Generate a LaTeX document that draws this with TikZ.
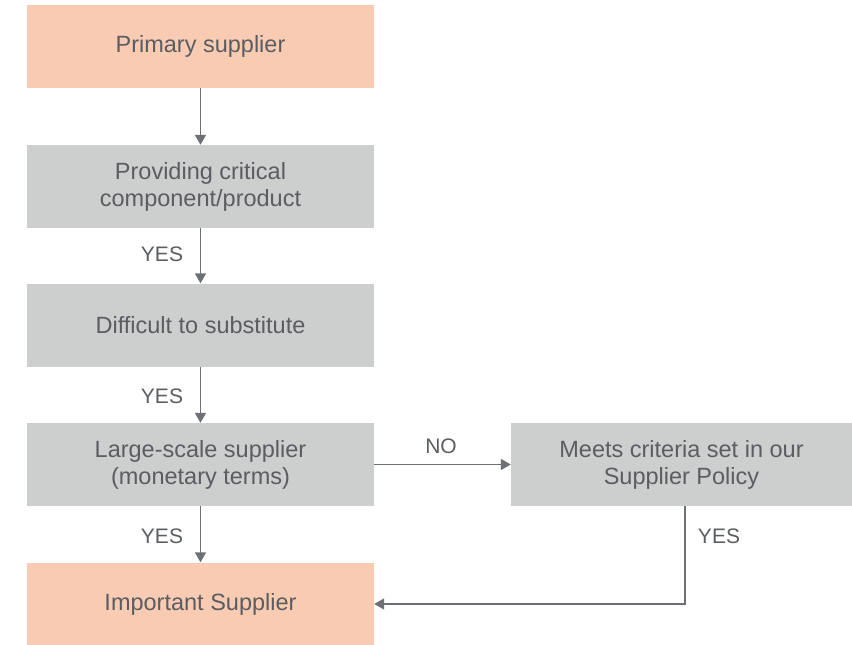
\documentclass[tikz,border=0pt]{standalone}
\usepackage{fontspec}
\setmainfont{Liberation Sans}
\usetikzlibrary{arrows.meta}
\definecolor{peach}{HTML}{F8CBB2}
\definecolor{boxgray}{HTML}{CDCECE}
\definecolor{linegray}{HTML}{6D7074}
\definecolor{txtgray}{HTML}{5A5D61}
\tikzset{
  box/.style={fill=#1, draw=none, minimum width=347pt, minimum height=83pt,
    align=center, text=txtgray, font=\fontsize{23.5}{27}\selectfont, inner sep=0pt},
  flow/.style={draw=linegray, line width=1.6pt, -{Triangle[width=11pt,length=10pt]}},
  lbl/.style={text=txtgray, font=\fontsize{21}{25}\selectfont, inner sep=0pt}
}
\begin{document}
\begin{tikzpicture}[x=1pt,y=-1pt]
\useasboundingbox (0,0) rectangle (852,645);
\node[box=peach] (p) at (200.5,46.5) {Primary supplier};
\node[box=boxgray] (c) at (200.5,186.5) {Providing critical\\component/product};
\node[box=boxgray] (d) at (200.5,325) {Difficult to substitute};
\node[box=boxgray] (l) at (200.5,464.5) {Large-scale supplier\\(monetary terms)};
\node[box=boxgray, minimum width=341pt] (m) at (681.5,464.5) {Meets criteria set in our\\Supplier Policy};
\node[box=peach] (i) at (200.5,604) {Important Supplier};
\coordinate (corner) at (685,604);
\draw[flow] (p) -- (c);
\draw[flow] (c) -- (d);
\draw[flow] (d) -- (l);
\draw[flow] (l) -- (i);
\draw[flow] (l) -- (m);
\draw[flow] (m.south -| corner) -- (corner) -- (i.east);
\node[lbl] (y1) at (162,254) {YES};
\node[lbl] (y2) at (162,396) {YES};
\node[lbl] (y3) at (162,536) {YES};
\node[lbl] (n1) at (441,446) {NO};
\node[lbl] (y4) at (719,536) {YES};
\end{tikzpicture}
\end{document}
